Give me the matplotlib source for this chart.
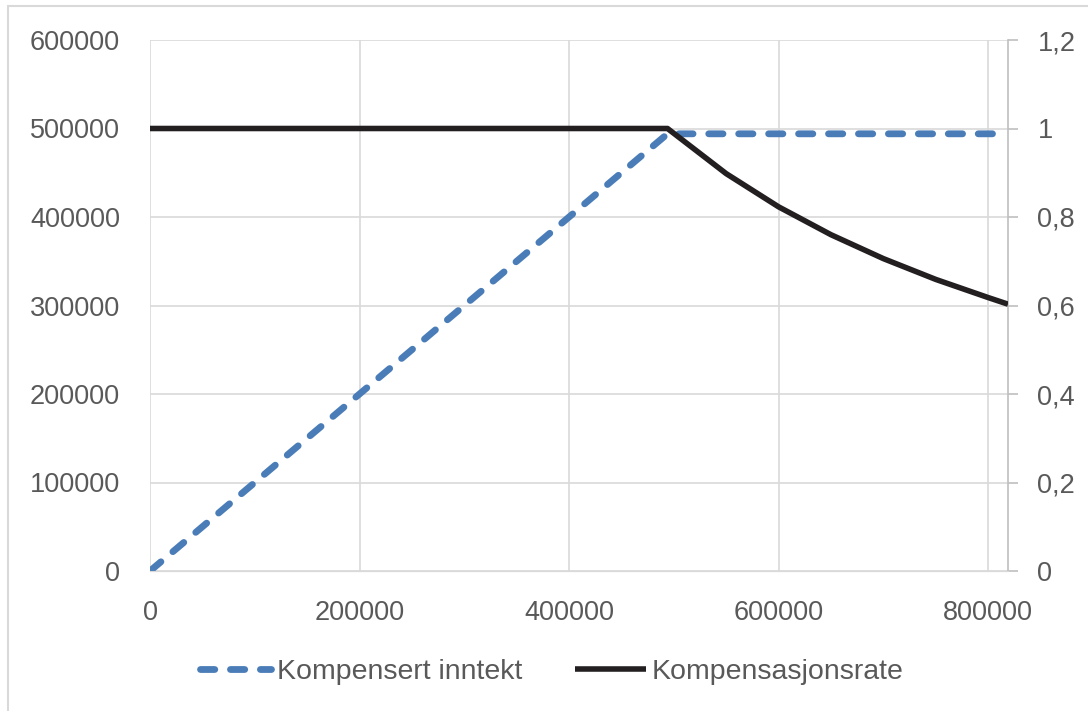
import matplotlib
matplotlib.use("Agg")
import matplotlib.pyplot as plt
from matplotlib.patches import Rectangle

# data
income_x = [0, 494000, 819000]
income_y = [0, 494000, 494000]
rate_x = [0, 494000, 550000, 600000, 650000, 700000, 750000, 800000, 819000]
rate_y = [1.0, 1.0, 0.898, 0.823, 0.760, 0.706, 0.659, 0.618, 0.603]
x_ticks = [0, 200000, 400000, 600000, 800000]
left_ticks = [0, 100000, 200000, 300000, 400000, 500000, 600000]
right_ticks = [0, 0.2, 0.4, 0.6, 0.8, 1.0, 1.2]
right_labels = ["0", "0,2", "0,4", "0,6", "0,8", "1", "1,2"]
series_labels = ["Kompensert inntekt", "Kompensasjonsrate"]

plt.rcParams["font.family"] = ["Liberation Sans", "DejaVu Sans"]
text_color = "#595959"
grid_color = "#d9d9d9"
fs = 19.5

fig = plt.figure(figsize=(10.88, 7.11), dpi=100)
ax = fig.add_axes([150 / 1088, 1 - 571 / 711, 858 / 1088, 531 / 711])
ax2 = ax.twinx()

blue, = ax.plot(income_x, income_y, color="#4a7db8", lw=4.9,
                dash_capstyle="round", label=series_labels[0], zorder=3)
blue.set_dashes((2.1, 2.3))
black, = ax2.plot(rate_x, rate_y, color="#231f20", lw=4.0,
                  solid_capstyle="butt", label=series_labels[1], zorder=3)

ax.set_xlim(0, 819000)
ax.set_ylim(0, 600000)
ax2.set_ylim(0, 1.2)

ax.set_xticks(x_ticks)
ax.set_xticklabels([str(v) for v in x_ticks])
ax.set_yticks(left_ticks)
ax.set_yticklabels([str(v) for v in left_ticks])
ax2.set_yticks(right_ticks)
ax2.set_yticklabels(right_labels)

ax.grid(True, color=grid_color, lw=1.2)
ax.set_axisbelow(True)

ax.tick_params(axis="x", length=0, pad=21, labelsize=fs, labelcolor=text_color)
ax.tick_params(axis="y", length=0, pad=21.5, labelsize=fs, labelcolor=text_color)
ax2.tick_params(axis="y", length=7.2, width=1.2, color="#bfbfbf", pad=14,
                labelsize=fs, labelcolor=text_color)

for a in (ax, ax2):
    a.spines["top"].set_visible(False)
    a.spines["left"].set_visible(False)
    a.spines["bottom"].set_color(grid_color)
    a.spines["right"].set_visible(False)
ax2.spines["right"].set_visible(True)
ax2.spines["right"].set_color("#bfbfbf")
ax2.spines["right"].set_linewidth(1.2)

fig.legend(handles=[blue, black], loc="center", ncol=2, frameon=False,
           bbox_to_anchor=(552 / 1088, 1 - 672 / 711), fontsize=20.5,
           handlelength=2.5, handletextpad=0.2, columnspacing=1.85,
           labelcolor=text_color)

fig.add_artist(Rectangle((8 / 1088, -0.05), 1.2, 1.05 - 6 / 711, fill=False,
                         transform=fig.transFigure, ec=grid_color, lw=1.5))

fig.savefig("out.png", dpi=100)
